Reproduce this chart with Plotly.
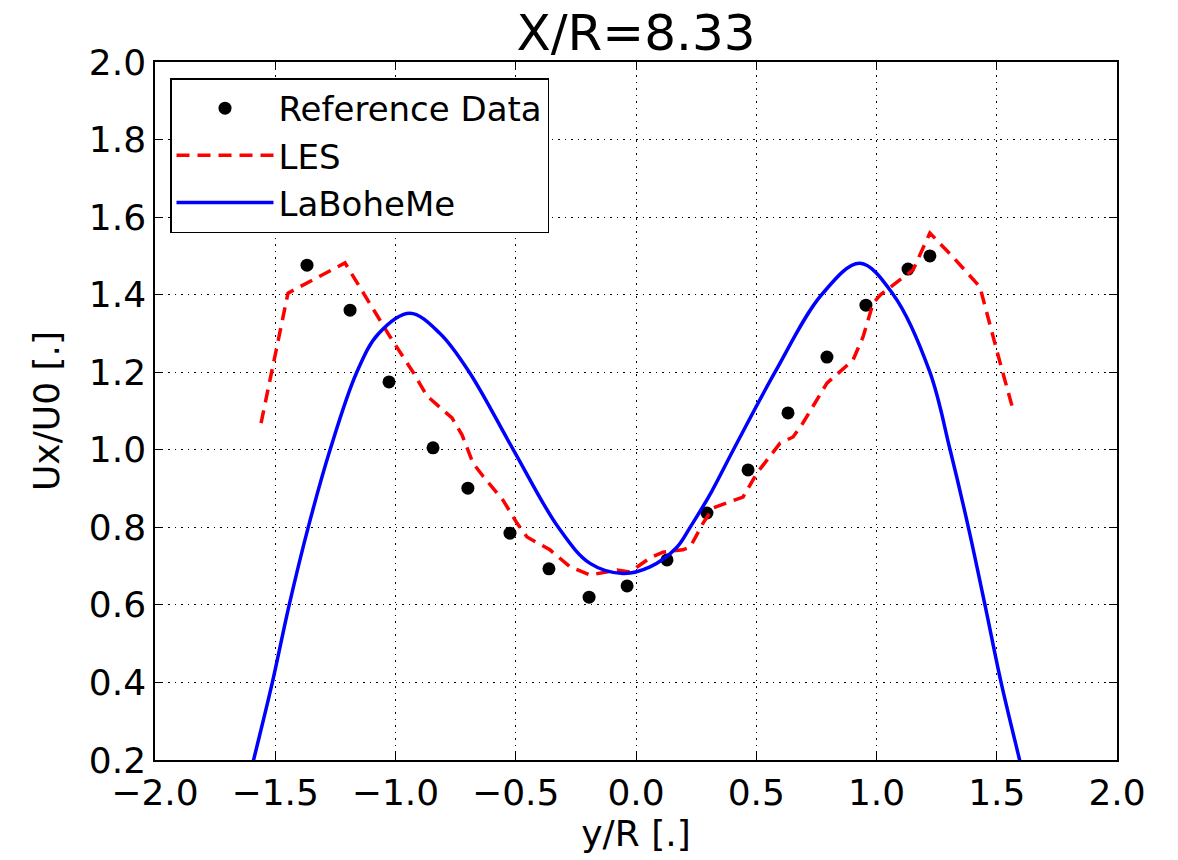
import plotly.graph_objects as go

# Reference data (black dots)
y_ref = [-1.368, -1.189, -1.027, -0.844, -0.699, -0.524, -0.362, -0.195, -0.037,
         0.129, 0.295, 0.466, 0.632, 0.794, 0.956, 1.131, 1.222]
u_ref = [1.476, 1.360, 1.175, 1.005, 0.901, 0.785, 0.693, 0.620, 0.649,
         0.716, 0.837, 0.948, 1.095, 1.239, 1.373, 1.466, 1.500]

# LES (red dashed)
y_les = [-1.559, -1.515, -1.447, -1.210, -1.023, -0.927, -0.869, -0.765, -0.723,
         -0.678, -0.635, -0.553, -0.495, -0.453, -0.358, -0.274, -0.191, -0.079,
         -0.025, 0.058, 0.112, 0.195, 0.225, 0.279, 0.320, 0.445, 0.503, 0.599,
         0.653, 0.694, 0.794, 0.902, 0.944, 0.986, 1.015, 1.152, 1.222, 1.318,
         1.430, 1.514, 1.568]
u_les = [1.069, 1.198, 1.404, 1.482, 1.292, 1.200, 1.139, 1.082, 1.038,
         0.966, 0.931, 0.870, 0.811, 0.775, 0.742, 0.698, 0.677, 0.690,
         0.685, 0.721, 0.736, 0.742, 0.749, 0.811, 0.850, 0.878, 0.940, 1.017,
         1.033, 1.069, 1.172, 1.231, 1.291, 1.378, 1.399, 1.464, 1.559, 1.497,
         1.420, 1.224, 1.103]

# LaBoheMe (blue solid)
y_lab = [-1.621, -1.590, -1.512, -1.442, -1.363, -1.272, -1.161, -1.070, -0.940,
         -0.815, -0.693, -0.510, -0.323, -0.191, -0.054, 0.058, 0.169, 0.225,
         0.315, 0.405, 0.578, 0.772, 0.931, 1.070, 1.222, 1.306, 1.382, 1.451,
         1.518, 1.595, 1.626]
u_lab = [0.12, 0.20, 0.40, 0.60, 0.80, 1.00, 1.20, 1.30, 1.352,
         1.30, 1.20, 1.00, 0.80, 0.707, 0.681, 0.698, 0.748, 0.80,
         0.893, 1.00, 1.20, 1.40, 1.481, 1.40, 1.20, 1.00, 0.80, 0.60,
         0.40, 0.20, 0.12]

x_ticks = [-2.0, -1.5, -1.0, -0.5, 0.0, 0.5, 1.0, 1.5, 2.0]
x_tick_text = ["\u22122.0", "\u22121.5", "\u22121.0", "\u22120.5", "0.0", "0.5", "1.0", "1.5", "2.0"]
y_ticks = [0.2, 0.4, 0.6, 0.8, 1.0, 1.2, 1.4, 1.6, 1.8, 2.0]
y_tick_text = ["0.2", "0.4", "0.6", "0.8", "1.0", "1.2", "1.4", "1.6", "1.8", "2.0"]

font = "DejaVu Sans"

fig = go.Figure()
fig.add_trace(go.Scatter(x=y_ref, y=u_ref, mode="markers", name="Reference Data",
                         marker=dict(color="black", size=13)))
fig.add_trace(go.Scatter(x=y_les, y=u_les, mode="lines", name="LES",
                         line=dict(color="red", width=3.5, dash="13px,8px")))
fig.add_trace(go.Scatter(x=y_lab, y=u_lab, mode="lines", name="LaBoheMe",
                         line=dict(color="blue", width=3.5, shape="spline", smoothing=1.0)))

axis_common = dict(
    showline=True, linecolor="black", linewidth=1.5, mirror="ticks",
    ticks="inside", ticklen=8, tickwidth=1, tickcolor="black",
    showgrid=True, gridcolor="black", gridwidth=1, griddash="1.5px,5px",
    zeroline=False, tickfont=dict(family=font, size=36, color="black"),
)

fig.update_layout(
    width=1178, height=860,
    margin=dict(l=155, r=61, t=62, b=100),
    paper_bgcolor="white", plot_bgcolor="white",
    font=dict(family=font, color="black"),
    title=dict(text="X/R=8.33", x=0.5, xref="paper", xanchor="center",
               y=1 - 32 / 860, yref="container", yanchor="middle",
               font=dict(family=font, size=50, color="black")),
    xaxis=dict(range=[-2, 2], tickvals=x_ticks, ticktext=x_tick_text,
               title=dict(text="y/R [.]", font=dict(family=font, size=36), standoff=4),
               **axis_common),
    yaxis=dict(range=[0.2, 2.0], tickvals=y_ticks, ticktext=y_tick_text,
               title=dict(text="Ux/U0 [.]", font=dict(family=font, size=36), standoff=18),
               **axis_common),
    legend=dict(x=0.0156, y=0.977, xanchor="left", yanchor="top",
                bgcolor="white", bordercolor="black", borderwidth=1.5,
                font=dict(family=font, size=34, color="black"),
                itemwidth=97),
    showlegend=True,
)

fig.write_html("out.html")
